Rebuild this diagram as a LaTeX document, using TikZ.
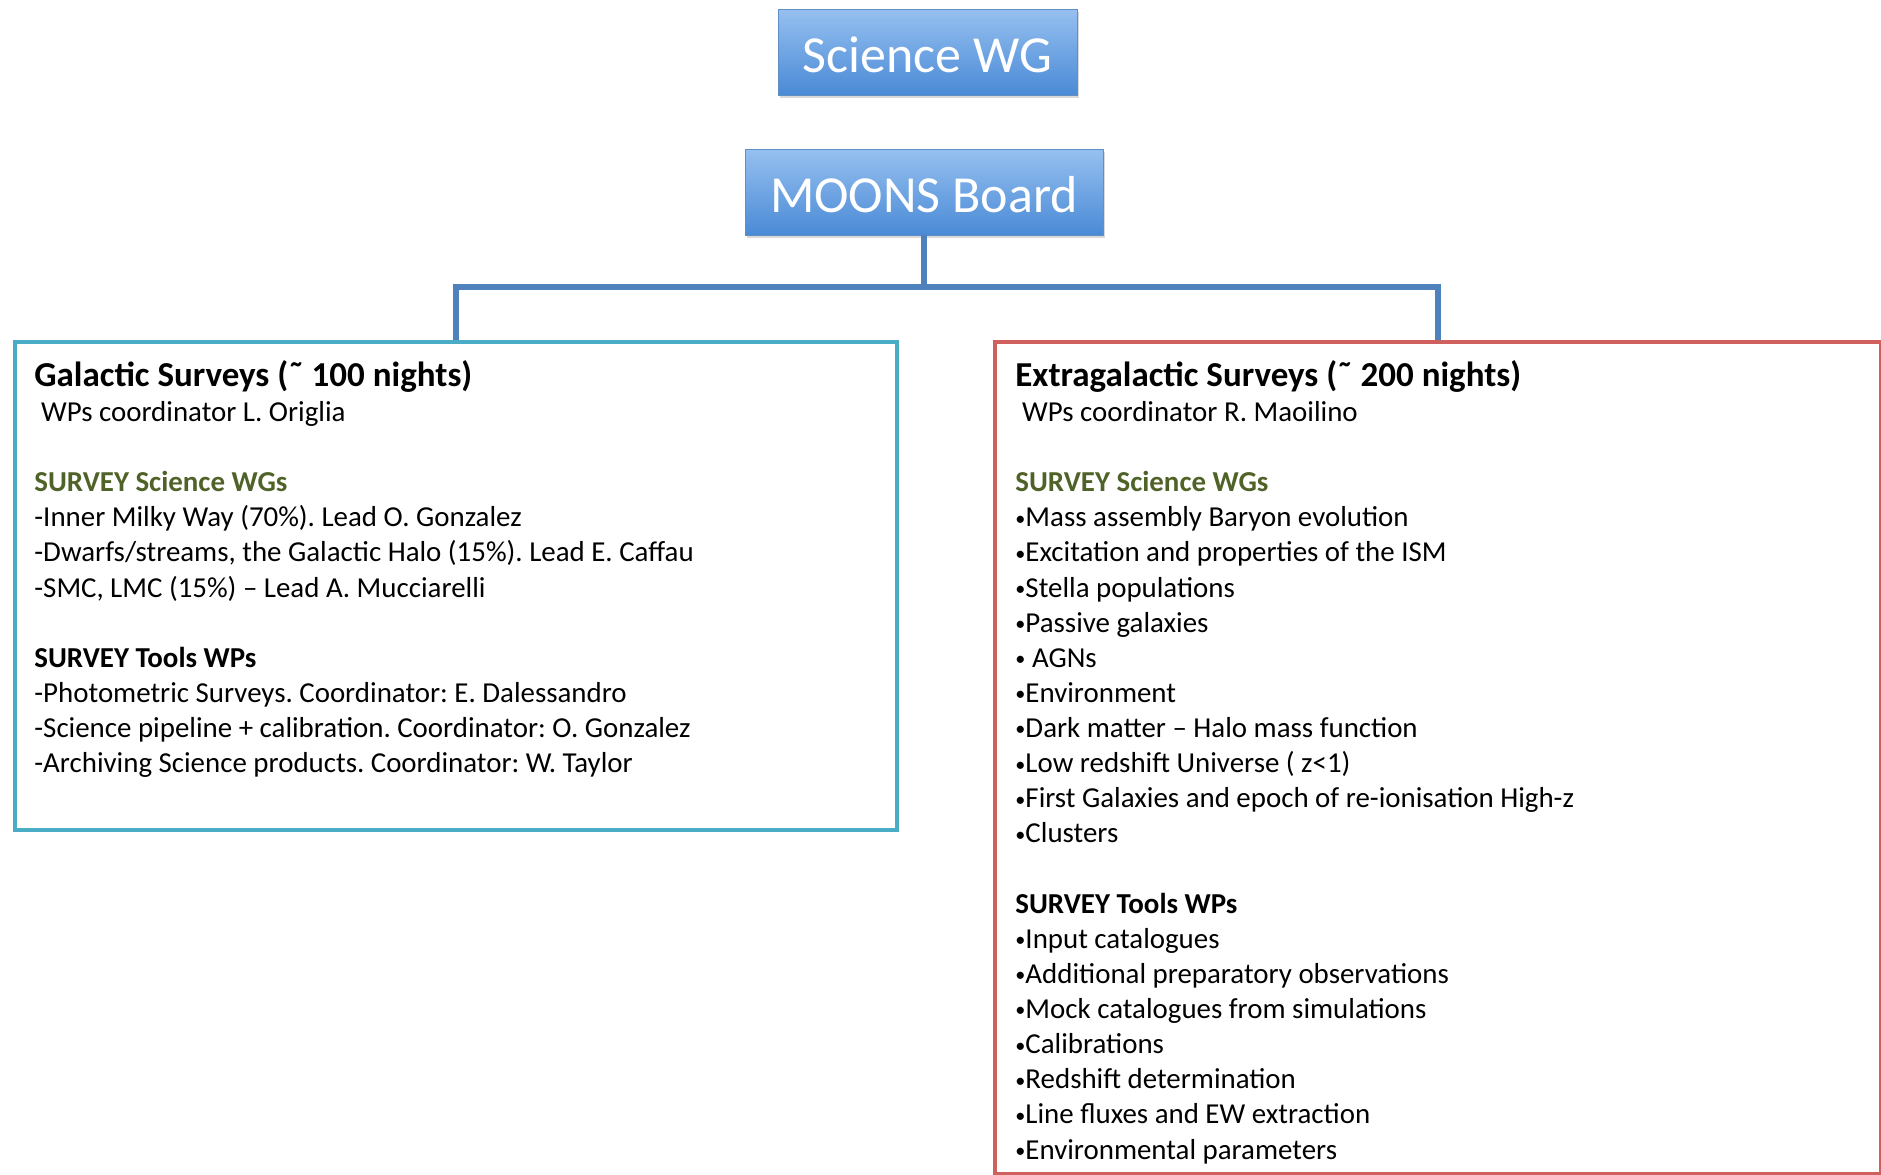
\documentclass[tikz,border=0pt]{standalone}
\usepackage{fontspec}
\setmainfont{Carlito}
\usepackage{tikz}
\usetikzlibrary{shadows}
\frenchspacing

\definecolor{boardblue}{RGB}{79,129,189}
\definecolor{topblue}{RGB}{150,192,240}
\definecolor{botblue}{RGB}{74,138,214}
\definecolor{galcyan}{RGB}{75,172,198}
\definecolor{extred}{RGB}{208,96,94}
\definecolor{wggreen}{RGB}{79,98,40}

\tikzset{
  headbox/.style = {draw = boardblue!90, top color = topblue, bottom color = botblue,
    text = white, font = \fontsize{26}{30}\selectfont, inner sep = 0pt,
    text height = 20pt, text depth = 0pt,
    minimum width = 149.5pt, minimum height = 43pt,
    drop shadow = {opacity = 0.3, shadow xshift = 0.8pt, shadow yshift = -1.5pt}},
  link/.style = {draw = boardblue, line width = 2.8pt},
  surveybox/.style = {draw, line width = 1.8pt, anchor = north west, inner sep = 0pt},
  boxtitle/.style = {font = \fontsize{17.5}{21}\selectfont\bfseries, anchor = base west, inner sep = 0pt},
  boxtext/.style = {font = \fontsize{14.45}{17.56}\selectfont, align = left, anchor = north west, inner sep = 0pt}
}
\newcommand{\wgtitle}{\textbf{\color{wggreen}SURVEY Science WGs}}
\newcommand{\wptitle}{\textbf{SURVEY Tools WPs}}
\newcommand{\dotmark}{\raisebox{0.8pt}{\scalebox{0.7}{•}}}

\begin{document}
\begin{tikzpicture}[x = 0.5pt, y = -0.5pt]
\useasboundingbox (0,0) rectangle (1881,1174);

\node (sciwg) at (927.5,52) [headbox] {Science WG};
\node (board) at (924,192) [headbox, minimum width = 179pt] {MOONS Board};

\node (gal) at (13,340) [surveybox, draw = galcyan, minimum width = 441pt, minimum height = 244pt] {};
\node (extra) at (993,340) [surveybox, draw = extred, minimum width = 443pt, minimum height = 416pt] {};

\coordinate (split) at (924,287);
\draw [link] (board.south) -- (split);
\draw [link] (split) -| (gal.north);
\draw [link] (split) -| (extra.north);

% galactic side
\node (galtitle) at (34,386) [boxtitle] {Galactic Surveys (˜ 100 nights)};
\node (galtext) at (34,401) [boxtext] {\hspace*{0.23em}WPs coordinator L. Origlia\\[17.56pt]
\wgtitle\\
-Inner Milky Way (70\%). Lead O. Gonzalez\\
-Dwarfs/streams, the Galactic Halo (15\%). Lead E. Caffau\\
-SMC, LMC (15\%) – Lead A. Mucciarelli\\[17.56pt]
\wptitle\\
-Photometric Surveys. Coordinator: E. Dalessandro\\
-Science pipeline + calibration. Coordinator: O. Gonzalez\\
-Archiving Science products. Coordinator: W. Taylor};

% extragalactic side
\node (extitle) at (1015,386) [boxtitle] {Extragalactic Surveys (˜ 200 nights)};
\node (extext) at (1015,401) [boxtext] {\hspace*{0.23em}WPs coordinator R. Maoilino\\[17.56pt]
\wgtitle\\
\dotmark Mass assembly Baryon evolution\\
\dotmark Excitation and properties of the ISM\\
\dotmark Stella populations\\
\dotmark Passive galaxies\\
\dotmark\ AGNs\\
\dotmark Environment\\
\dotmark Dark matter – Halo mass function\\
\dotmark Low redshift Universe ( z<1)\\
\dotmark First Galaxies and epoch of re-ionisation High-z\\
\dotmark Clusters\\[17.56pt]
\wptitle\\
\dotmark Input catalogues\\
\dotmark Additional preparatory observations\\
\dotmark Mock catalogues from simulations\\
\dotmark Calibrations\\
\dotmark Redshift determination\\
\dotmark Line fluxes and EW extraction\\
\dotmark Environmental parameters};

\end{tikzpicture}
\end{document}
